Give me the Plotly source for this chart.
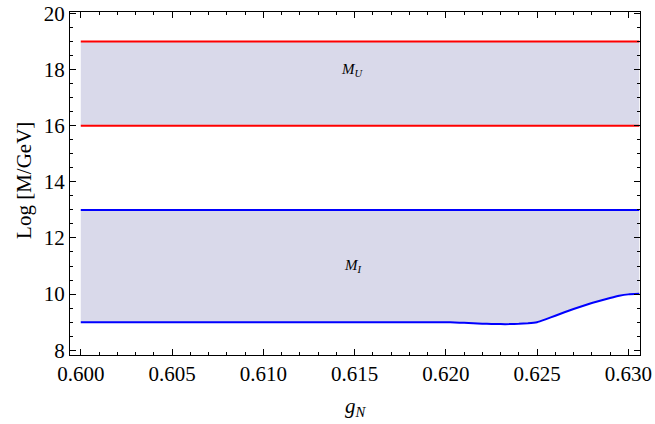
import plotly.graph_objects as go

# data
g_flat = [0.600, 0.6306]
mu_low = [16, 16]
mu_high = [19, 19]
mi_high = [13, 13]
g_curve = [0.600, 0.605, 0.610, 0.615, 0.620, 0.6205, 0.621, 0.6215, 0.622, 0.6225, 0.623,
           0.6235, 0.624, 0.6245, 0.625, 0.6255, 0.626, 0.627, 0.628, 0.629, 0.6295,
           0.6300, 0.6306]
mi_low = [9.0, 9.0, 9.0, 9.0, 9.0, 8.99, 8.975, 8.96, 8.945, 8.935, 8.93,
          8.93, 8.94, 8.96, 9.0, 9.11, 9.23, 9.47, 9.68, 9.86, 9.94,
          9.99, 10.01]
mi_high_curve = [13] * len(g_curve)
x_ticks = [0.600, 0.605, 0.610, 0.615, 0.620, 0.625, 0.630]
x_ticklabels = ["0.600", "0.605", "0.610", "0.615", "0.620", "0.625", "0.630"]
y_ticks = [8, 10, 12, 14, 16, 18, 20]

SERIF = "Liberation Serif, Times New Roman, Times, serif"
fill = "rgb(217,217,234)"
red = "#ff0000"
blue = "#0000ff"

fig = go.Figure()
fig.add_trace(go.Scatter(x=g_flat, y=mu_low, mode="lines", line=dict(color=red, width=2),
                         showlegend=False, hoverinfo="skip"))
fig.add_trace(go.Scatter(x=g_flat, y=mu_high, mode="lines", line=dict(color=red, width=2),
                         fill="tonexty", fillcolor=fill, showlegend=False, hoverinfo="skip"))
fig.add_trace(go.Scatter(x=g_curve, y=mi_low, mode="lines",
                         line=dict(color=blue, width=2, shape="spline", smoothing=0.3),
                         showlegend=False, hoverinfo="skip"))
fig.add_trace(go.Scatter(x=g_curve, y=mi_high_curve, mode="lines", line=dict(color=blue, width=2),
                         fill="tonexty", fillcolor=fill, showlegend=False, hoverinfo="skip"))

fig.add_annotation(x=0.6149, y=18.0, text="<i>M<sub>U</sub></i>", showarrow=False,
                   font=dict(family=SERIF, size=15, color="black"))
fig.add_annotation(x=0.6149, y=11.0, text="<i>M<sub>I</sub></i>", showarrow=False,
                   font=dict(family=SERIF, size=15, color="black"))
# axis titles
fig.add_annotation(xref="paper", yref="paper", x=0.502, y=-0.152, yanchor="middle",
                   text="<i>g<sub>N</sub></i>", showarrow=False,
                   font=dict(family=SERIF, size=21, color="black"))
fig.add_annotation(xref="paper", yref="paper", x=-0.081, xanchor="center", y=0.51,
                   text="Log [M/GeV]", textangle=-90, showarrow=False,
                   font=dict(family=SERIF, size=21, color="black"))

axis_common = dict(showline=True, linecolor="black", linewidth=1, mirror="allticks",
                   ticks="inside", tickcolor="black", showgrid=False, zeroline=False,
                   automargin=False, ticklen=6, tickwidth=1,
                   tickfont=dict(family=SERIF, size=21, color="black"))

fig.update_xaxes(range=[0.59941, 0.63064], tickmode="array",
                 tickvals=x_ticks, ticktext=x_ticklabels,
                 minor=dict(dtick=0.001, tick0=0.6, ticks="inside", ticklen=3,
                            tickcolor="black", showgrid=False),
                 **axis_common)
fig.update_yaxes(range=[7.83, 20.05], tickmode="array", tickvals=y_ticks,
                 minor=dict(dtick=0.5, tick0=8, ticks="inside", ticklen=3,
                            tickcolor="black", showgrid=False),
                 **axis_common)

fig.update_layout(width=655, height=424, margin=dict(l=70, r=15, t=12, b=69),
                  plot_bgcolor="white", paper_bgcolor="white")

fig.write_html("out.html", config={"displayModeBar": False},
               post_script="document.body.style.margin='0';document.body.style.overflow='hidden';")
